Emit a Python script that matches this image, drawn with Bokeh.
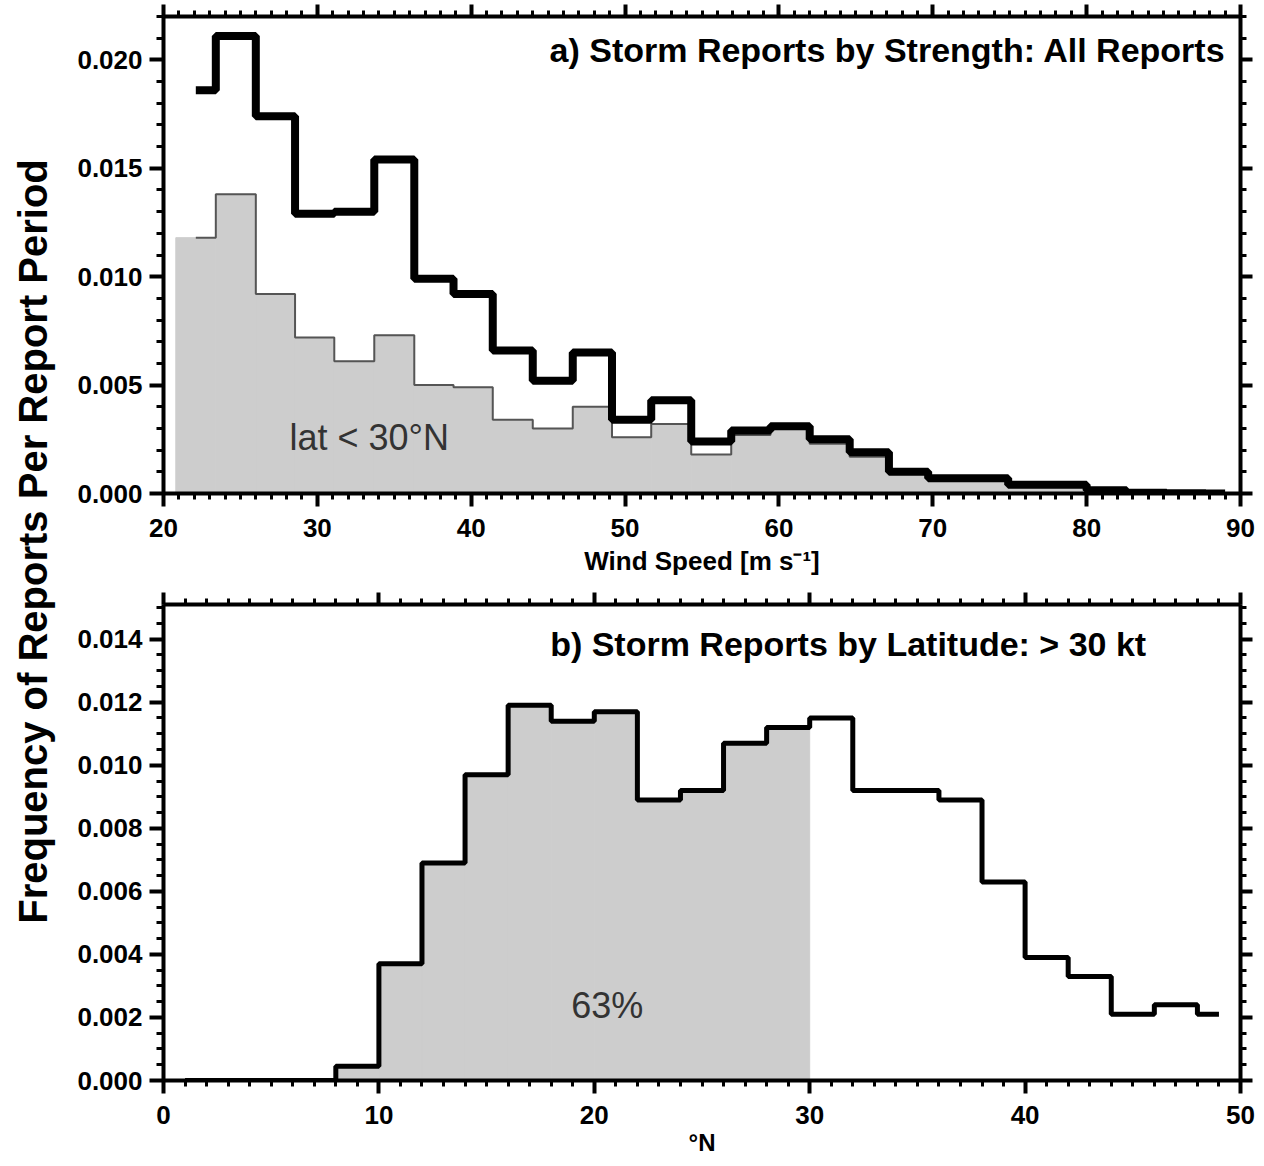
import numpy as np
from bokeh.plotting import figure
from bokeh.layouts import row, column
from bokeh.models import Range1d, LinearAxis, FixedTicker, NumeralTickFormatter, Label, CustomLabelingPolicy
from bokeh.core.properties import value
from bokeh.embed import file_html
from bokeh.resources import INLINE

# ---------------- data ----------------
# panel a: wind speed bin centres [m/s]
wind_speed = [22.1, 24.7, 27.3, 29.8, 32.4, 35.0, 37.6, 40.1, 42.7, 45.3, 47.9, 50.4, 53.0,
              55.6, 58.2, 60.7, 63.3, 65.9, 68.4, 71.0, 73.6, 76.2, 78.7, 81.3, 83.9, 86.5, 89.0]
all_reports = [0.0186, 0.0211, 0.0174, 0.0129, 0.0130, 0.0154, 0.0099, 0.0092, 0.0066, 0.0052,
               0.0065, 0.0034, 0.0043, 0.0024, 0.0029, 0.0031, 0.0025, 0.0019, 0.0010, 0.0007,
               0.0007, 0.0004, 0.0004, 0.00015, 0.00004, 0.00001, 0.0]
lat_lt30 = [0.0118, 0.0138, 0.0092, 0.0072, 0.0061, 0.0073, 0.0050, 0.0049, 0.0034, 0.0030,
            0.0040, 0.0026, 0.0032, 0.0018, 0.0027, 0.0030, 0.0023, 0.0017, 0.0009, 0.0006,
            0.0006, 0.0003, 0.0003, 0.0001, 0.0, 0.0, 0.0]

# panel b: latitude bin centres [deg N]
latitude = [1, 3, 5, 7, 9, 11, 13, 15, 17, 19, 21, 23, 25, 27, 29, 31, 33, 35, 37, 39, 41, 43, 45, 47, 49]
lat_freq = [0.0, 0.0, 0.0, 0.0, 0.00045, 0.0037, 0.0069, 0.0097, 0.0119, 0.0114, 0.0117, 0.0089,
            0.0092, 0.0107, 0.0112, 0.0115, 0.0092, 0.0092, 0.0089, 0.0063, 0.0039, 0.0033,
            0.0021, 0.0024, 0.0021]
lat_cut = 30

# ticks
a_xticks = [20, 30, 40, 50, 60, 70, 80, 90]
a_yticks = [0.0, 0.005, 0.010, 0.015, 0.020]
b_xticks = [0, 10, 20, 30, 40, 50]
b_yticks = [0.0, 0.002, 0.004, 0.006, 0.008, 0.010, 0.012, 0.014]

FONT = "Liberation Sans"
GRAY = "#cdcdcd"


def edges(c):
    c = np.asarray(c, dtype=float)
    mids = (c[:-1] + c[1:]) / 2
    left = np.concatenate([[c[0] - (c[1] - c[0]) / 2], mids])
    right = np.concatenate([mids, [c[-1] + (c[-1] - c[-2]) / 2]])
    return left, right


def hide_policy():
    return CustomLabelingPolicy(
        code="for (let i = 0; i < indices.size; i++) { indices.unset(i) }\nreturn indices")


def style_axis(ax, ticks, minor, labels=True, tick_out=14, minor_out=7, standoff=7):
    ax.ticker = FixedTicker(ticks=ticks, minor_ticks=minor)
    ax.axis_line_color = "black"
    ax.axis_line_width = 4
    ax.major_tick_line_color = "black"
    ax.minor_tick_line_color = "black"
    ax.major_tick_line_width = 4
    ax.minor_tick_line_width = 3
    ax.major_tick_in = 0
    ax.minor_tick_in = 0
    ax.major_tick_out = tick_out
    ax.minor_tick_out = minor_out
    if labels:
        ax.major_label_text_font = FONT
        ax.major_label_text_font_style = "bold"
        ax.major_label_text_font_size = "26px"
        ax.major_label_text_color = "black"
        ax.major_label_standoff = standoff
    else:
        ax.major_label_policy = hide_policy()
        ax.major_label_text_font_size = "0px"
        ax.major_label_standoff = 0


def base_fig(w, h, xr, yr, top, bottom):
    p = figure(width=w, height=h, x_range=Range1d(*xr), y_range=Range1d(*yr),
               output_backend="svg", toolbar_location=None,
               min_border_left=103, min_border_right=16,
               min_border_top=top, min_border_bottom=bottom)
    p.xgrid.visible = False
    p.ygrid.visible = False
    p.outline_line_color = None
    p.background_fill_color = "white"
    p.border_fill_color = "white"
    return p


# ---------------- panel a ----------------
p1 = base_fig(1196, 588, (20, 90), (0, 0.022), 16, 95)
ax_minor = list(np.arange(20, 91, 1))
ay_minor = list(np.round(np.arange(0, 0.0221, 0.001), 4))
style_axis(p1.xaxis[0], a_xticks, ax_minor, tick_out=13, minor_out=6, standoff=12)
style_axis(p1.yaxis[0], a_yticks, ay_minor)
p1.yaxis[0].formatter = NumeralTickFormatter(format="0.000")
p1.xaxis[0].axis_label = "Wind Speed [m s\u207b\u00b9]"
p1.xaxis[0].axis_label_text_font = FONT
p1.xaxis[0].axis_label_text_font_style = "bold"
p1.xaxis[0].axis_label_text_font_size = "26px"
p1.xaxis[0].axis_label_text_color = "black"
p1.xaxis[0].axis_label_standoff = 6
top1 = LinearAxis()
style_axis(top1, a_xticks, ax_minor, labels=False, tick_out=12, minor_out=6)
p1.add_layout(top1, "above")
right1 = LinearAxis()
style_axis(right1, a_yticks, ay_minor, labels=False, tick_out=12, minor_out=6)
p1.add_layout(right1, "right")

l1, r1 = edges(wind_speed)
p1.quad(left=l1, right=r1, bottom=0, top=lat_lt30, fill_color=GRAY, line_color=GRAY, line_width=1)
p1.step(x=wind_speed, y=lat_lt30, mode="center", line_color="#555555", line_width=2)
p1.step(x=wind_speed, y=all_reports, mode="center", line_color="black", line_width=8)

p1.add_layout(Label(x=45.09, y=0.02045, text="a) Storm Reports by Strength: All Reports",
                    text_font=FONT, text_font_style="bold", text_font_size="34px",
                    text_align="left", text_baseline="alphabetic", text_color="black"))
p1.add_layout(Label(x=28.19, y=0.0026, text="lat < 30\u00b0N",
                    text_font=FONT, text_font_size="36px",
                    text_align="left", text_baseline="alphabetic", text_color="#333333"))

# ---------------- panel b ----------------
p2 = base_fig(1196, 578, (0, 50), (0, 0.0151), 16, 86)
bx_minor = list(np.arange(0, 51, 1))
by_minor = list(np.round(np.arange(0, 0.0151, 0.0005), 4))
style_axis(p2.xaxis[0], b_xticks, bx_minor, tick_out=13, minor_out=6, standoff=12)
style_axis(p2.yaxis[0], b_yticks, by_minor)
p2.yaxis[0].formatter = NumeralTickFormatter(format="0.000")
p2.xaxis[0].axis_label = "\u00b0N"
p2.xaxis[0].axis_label_text_font = FONT
p2.xaxis[0].axis_label_text_font_style = "bold"
p2.xaxis[0].axis_label_text_font_size = "24px"
p2.xaxis[0].axis_label_text_color = "black"
p2.xaxis[0].axis_label_standoff = 2
top2 = LinearAxis()
style_axis(top2, b_xticks, bx_minor, labels=False, tick_out=12, minor_out=6)
p2.add_layout(top2, "above")
right2 = LinearAxis()
style_axis(right2, b_yticks, by_minor, labels=False, tick_out=12, minor_out=6)
p2.add_layout(right2, "right")

l2, r2 = edges(latitude)
lat_arr = np.asarray(latitude)
mask = lat_arr < lat_cut
p2.quad(left=l2[mask], right=r2[mask], bottom=0, top=np.asarray(lat_freq)[mask],
        fill_color=GRAY, line_color=GRAY, line_width=1)
p2.step(x=latitude, y=lat_freq, mode="center", line_color="black", line_width=5)

p2.add_layout(Label(x=17.95, y=0.01386, text="b) Storm Reports by Latitude: > 30 kt",
                    text_font=FONT, text_font_style="bold", text_font_size="34px",
                    text_align="left", text_baseline="alphabetic", text_color="black"))
p2.add_layout(Label(x=18.93, y=0.00239, text="63%",
                    text_font=FONT, text_font_size="36px",
                    text_align="left", text_baseline="alphabetic", text_color="#333333"))

# ---------------- shared y label ----------------
pl = figure(width=60, height=1166, x_range=Range1d(0, 60), y_range=Range1d(0, 1166),
            output_backend="svg", toolbar_location=None,
            x_axis_location=None, y_axis_location=None,
            min_border_left=0, min_border_right=0, min_border_top=0, min_border_bottom=0)
pl.xgrid.visible = False
pl.ygrid.visible = False
pl.outline_line_color = None
pl.text(x=[32.5], y=[625], text=["Frequency of Reports Per Report Period"],
        angle=np.pi / 2, text_align="center", text_baseline="middle",
        text_font=value(FONT), text_font_style="bold", text_font_size="40px",
        text_color="black")

layout = row(pl, column(p1, p2))
open("out.html", "w").write(file_html(layout, INLINE))
